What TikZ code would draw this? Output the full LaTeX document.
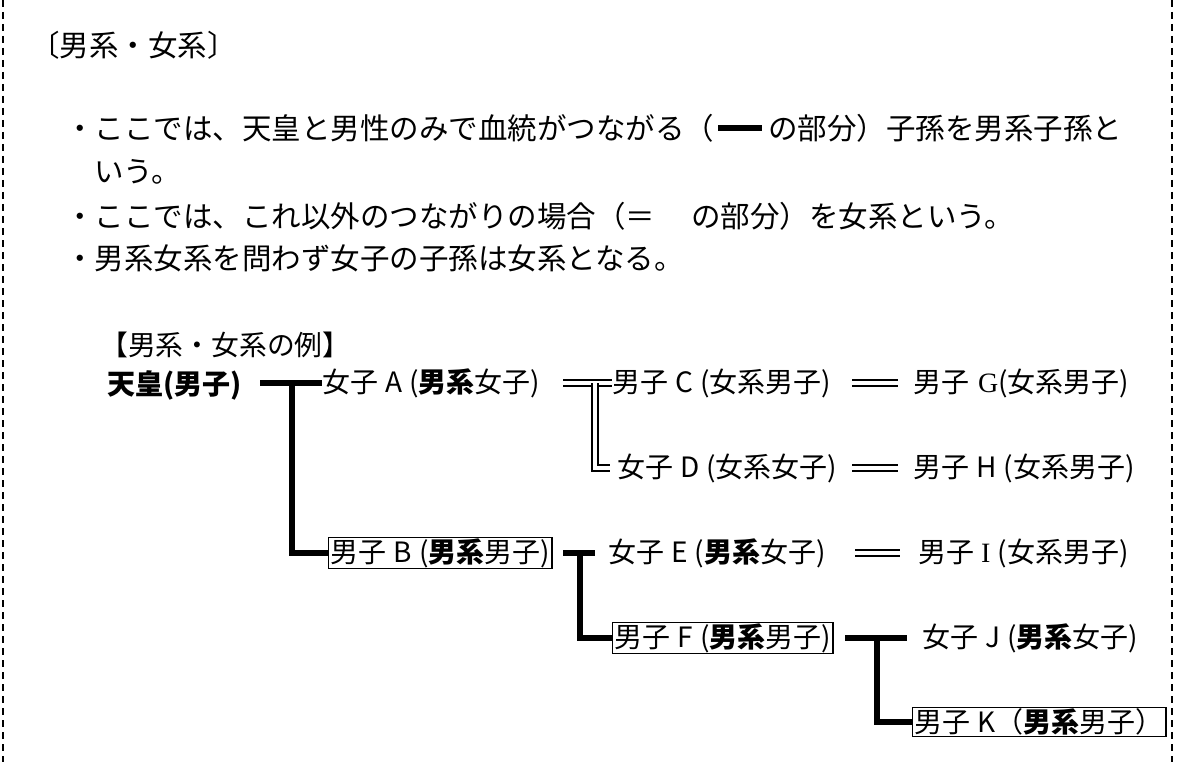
\documentclass[tikz,border=0pt]{standalone}
\usepackage{fontspec}
\setmainfont{Noto Sans CJK JP}
\newfontfamily\latinserif{Liberation Serif}
\newcommand{\gp}{\hspace{7pt}}
\tikzset{
  jp/.style={anchor=west, inner sep=0pt, font=\fontsize{29.5}{34}\selectfont},
  tr/.style={anchor=west, inner sep=0pt, font=\fontsize{28}{32}\selectfont},
  boxed/.style={tr, draw, line width=1.4pt, inner xsep=2pt, inner ysep=1pt},
  male/.style={line width=6pt},
  fem/.style={double, double distance=4pt, line width=1.6pt},
  border/.style={line width=2pt, dash pattern=on 7pt off 5pt}
}
\begin{document}
\begin{tikzpicture}[x=1pt,y=-1pt]
\useasboundingbox (0,0) rectangle (1196,762);
% dashed frame sides
\coordinate (fl1) at (3,0); \coordinate (fl2) at (3,762);
\coordinate (fr1) at (1172,0); \coordinate (fr2) at (1172,762);
\draw[border] (fl1) -- (fl2);
\draw[border] (fr1) -- (fr2);
% header text
\node[jp] (title) at (30,45) {〔男系・女系〕};
\node[jp] (l1) at (65,128) {・ここでは、天皇と男性のみで血統がつながる（\hspace{4pt}\rule[8pt]{44pt}{6pt}\hspace{6pt}の部分）子孫を男系子孫と};
\node[jp] (l1b) at (94,172) {いう。};
\node[jp] (l2) at (65,216) {・ここでは、これ以外のつながりの場合（＝\hspace{36pt}の部分）を女系という。};
\node[jp] (l3) at (65,258) {・男系女系を問わず女子の子孫は女系となる。};
\node[jp, font=\fontsize{27.8}{32}\selectfont] (ex) at (100,345) {【男系・女系の例】};
% tree nodes
\node[tr] (emp) at (107,385) {\textbf{天皇(男子)}};
\node[tr] (A) at (322,383) {女子\gp A\gp(\textbf{男系}女子)};
\node[tr] (C) at (612,383) {男子\gp C\gp(女系男子)};
\node[tr] (G) at (913,383) {男子\hspace{9pt}{\latinserif G}(女系男子)};
\node[tr] (D) at (617,468) {女子\gp D\gp(女系女子)};
\node[tr] (H) at (913,468) {男子\gp H\gp(女系男子)};
\node[boxed] (B) at (328,553) {男子\gp B\gp(\textbf{男系}男子)};
\node[tr] (E) at (608,553) {女子\gp E\gp(\textbf{男系}女子)};
\node[tr] (I) at (918,553) {男子\gp{\latinserif I}\gp(女系男子)};
\node[boxed] (F) at (612,638) {男子\gp F\gp(\textbf{男系}男子)};
\node[tr] (J) at (922,638) {女子\gp J\gp(\textbf{男系}女子)};
\node[boxed] (K) at (912,722) {男子\gp K（\textbf{男系}男子）};
% male-line connectors
\coordinate (j1) at (292,383);
\draw[male] ([xshift=-62pt]A.west) -- (A.west);
\draw[male] (j1) |- (B.west);
\coordinate (j2) at (580,553);
\draw[male] ([xshift=-45pt]E.west) -- ([xshift=-13pt]E.west);
\draw[male] (j2) |- (F.west);
\coordinate (j3) at (877,638);
\draw[male] ([xshift=-77pt]J.west) -- ([xshift=-15pt]J.west);
\draw[male] (j3) |- (K.west);
% female-line connectors
\coordinate (j4) at (595,383);
\draw[fem] ([xshift=-49pt]C.west) -- (C.west);
\draw[fem] (j4) |- ([xshift=-7pt]D.west);
\draw[fem] ([xshift=-61pt]G.west) -- ([xshift=-15pt]G.west);
\draw[fem] ([xshift=-61pt]H.west) -- ([xshift=-15pt]H.west);
\draw[fem] ([xshift=-63pt]I.west) -- ([xshift=-18pt]I.west);
\end{tikzpicture}
\end{document}
